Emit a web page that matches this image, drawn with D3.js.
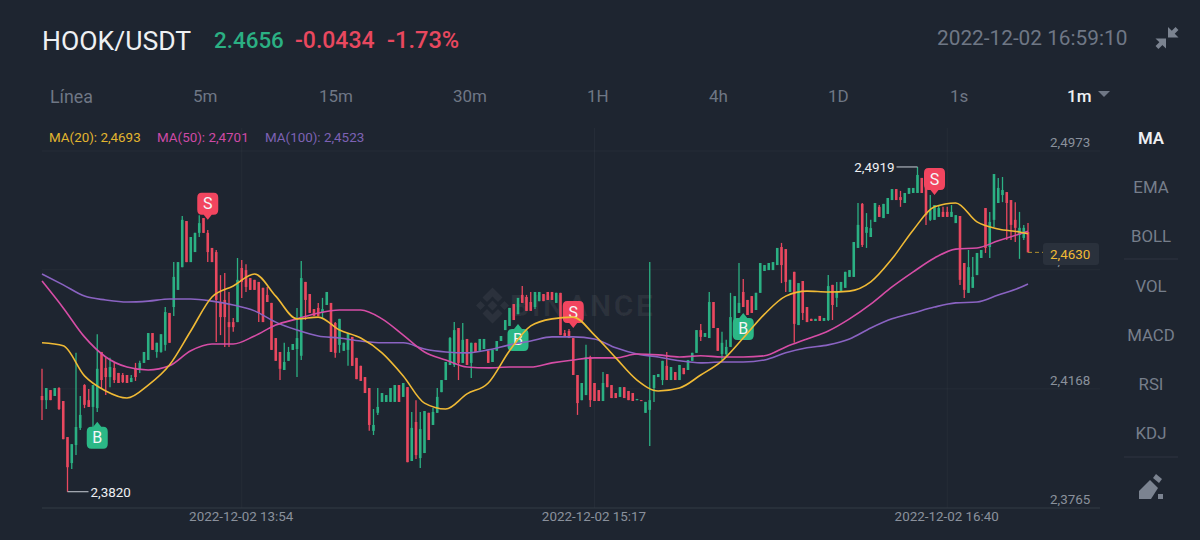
<!DOCTYPE html>
<html>
<head>
<meta charset="utf-8">
<title>HOOK/USDT</title>
<script src="https://cdn.jsdelivr.net/npm/d3@7"></script>
<style>
  html, body { margin: 0; padding: 0; background: #1e2530; }
  svg { display: block; font-family: Roboto, "Noto Sans", sans-serif; }
</style>
</head>
<body>
<svg id="chart" width="1200" height="540"></svg>
<script>
// One-minute candles, first candle at 13:07
const opens = [
2.4144,2.4130,2.4164,2.4144,2.4171,2.4127,2.4005,2.3917,2.3978,2.4036,
2.4181,2.4130,2.4107,2.4103,2.4293,2.4239,2.4208,2.4239,2.4222,2.4215,
2.4215,2.4191,2.4239,2.4232,2.4256,2.4266,2.4357,2.4293,2.4293,2.4317,
2.4425,2.4445,2.4503,2.4580,2.4736,2.4597,2.4631,2.4696,2.4746,2.4696,
2.4645,2.4631,2.4459,2.4469,2.4394,2.4394,2.4394,2.4577,2.4570,2.4543,
2.4537,2.4530,2.4510,2.4486,2.4459,2.4340,2.4293,2.4232,2.4263,2.4300,
2.4303,2.4280,2.4530,2.4489,2.4438,2.4442,2.4425,2.4452,2.4459,2.4391,
2.4317,2.4297,2.4300,2.4344,2.4273,2.4246,2.4208,2.4171,2.4026,2.4087,
2.4124,2.4124,2.4124,2.4124,2.4181,2.4141,2.4174,2.3924,2.4056,2.3934,
2.3951,2.4087,2.4046,2.4087,2.4157,2.4198,2.4249,2.4249,2.4374,2.4256,
2.4337,2.4256,2.4324,2.4297,2.4303,2.4297,2.4259,2.4297,2.4330,2.4367,
2.4381,2.4455,2.4421,2.4486,2.4479,2.4462,2.4445,2.4465,2.4489,2.4496,
2.4496,2.4459,2.4493,2.4357,2.4364,2.4340,2.4215,2.4130,2.4147,2.4276,
2.4188,2.4164,2.4127,2.4218,2.4181,2.4154,2.4141,2.4174,2.4161,2.4154,
2.4130,2.4130,2.4087,2.4097,2.4171,2.4208,2.4198,2.4246,2.4198,2.4225,
2.4198,2.4239,2.4232,2.4263,2.4290,2.4367,2.4344,2.4340,2.4462,2.4374,
2.4286,2.4286,2.4310,2.4391,2.4425,2.4496,2.4469,2.4482,2.4435,2.4493,
2.4567,2.4570,2.4570,2.4587,2.4648,2.4641,2.4496,2.4564,2.4384,2.4533,
2.4445,2.4405,2.4398,2.4415,2.4398,2.4401,2.4520,2.4476,2.4496,2.4510,
2.4547,2.4547,2.4645,2.4794,2.4696,2.4682,2.4733,2.4784,2.4746,2.4760,
2.4807,2.4844,2.4817,2.4797,2.4828,2.4831,2.4831,2.4882,2.4848,2.4740,
2.4740,2.4750,2.4767,2.4767,2.4750,2.4729,2.4753,2.4594,2.4493,2.4510,
2.4553,2.4611,2.4780,2.4648,2.4740,2.4797,2.4824,2.4834,2.4807,2.4740,
2.4689,2.4679,2.4699];
const closes = [
2.4130,2.4171,2.4130,2.4171,2.4100,2.3998,2.3903,2.3981,2.4039,2.4080,
2.4114,2.4107,2.4181,2.4236,2.4198,2.4208,2.4242,2.4198,2.4188,2.4191,
2.4188,2.4205,2.4208,2.4256,2.4293,2.4357,2.4300,2.4324,2.4353,2.4428,
2.4324,2.4547,2.4597,2.4740,2.4597,2.4682,2.4696,2.4729,2.4696,2.4631,
2.4597,2.4469,2.4411,2.4411,2.4377,2.4377,2.4537,2.4530,2.4513,2.4503,
2.4503,2.4425,2.4394,2.4462,2.4300,2.4263,2.4236,2.4259,2.4293,2.4320,
2.4340,2.4543,2.4469,2.4425,2.4415,2.4415,2.4438,2.4496,2.4293,2.4290,
2.4405,2.4324,2.4357,2.4246,2.4201,2.4195,2.4154,2.4046,2.4046,2.4107,
2.4154,2.4147,2.4171,2.4181,2.4124,2.4188,2.3920,2.4036,2.3944,2.4032,
2.4093,2.3995,2.4090,2.4141,2.4198,2.4259,2.4340,2.4367,2.4256,2.4334,
2.4249,2.4324,2.4293,2.4337,2.4337,2.4256,2.4300,2.4330,2.4347,2.4401,
2.4442,2.4401,2.4476,2.4459,2.4432,2.4432,2.4496,2.4496,2.4465,2.4469,
2.4469,2.4493,2.4350,2.4344,2.4340,2.4215,2.4120,2.4188,2.4276,2.4130,
2.4127,2.4127,2.4188,2.4174,2.4137,2.4137,2.4174,2.4137,2.4130,2.4127,
2.4134,2.4127,2.4124,2.4130,2.4215,2.4218,2.4263,2.4198,2.4242,2.4198,
2.4249,2.4218,2.4266,2.4290,2.4367,2.4344,2.4357,2.4462,2.4374,2.4297,
2.4324,2.4310,2.4411,2.4482,2.4459,2.4445,2.4418,2.4425,2.4493,2.4594,
2.4587,2.4594,2.4597,2.4645,2.4587,2.4530,2.4537,2.4388,2.4526,2.4425,
2.4394,2.4398,2.4405,2.4398,2.4408,2.4516,2.4452,2.4496,2.4530,2.4564,
2.4570,2.4665,2.4723,2.4655,2.4716,2.4712,2.4797,2.4750,2.4794,2.4814,
2.4844,2.4807,2.4807,2.4831,2.4848,2.4848,2.4892,2.4831,2.4756,2.4773,
2.4790,2.4780,2.4750,2.4750,2.4767,2.4756,2.4537,2.4503,2.4580,2.4547,
2.4628,2.4638,2.4645,2.4733,2.4895,2.4848,2.4841,2.4797,2.4723,2.4713,
2.4713,2.4713,2.4630];
const highs = [
2.4236,2.4171,2.4164,2.4171,2.4174,2.4127,2.4005,2.3981,2.4290,2.4144,
2.4184,2.4168,2.4181,2.4353,2.4293,2.4273,2.4273,2.4259,2.4222,2.4222,
2.4215,2.4215,2.4256,2.4263,2.4293,2.4357,2.4357,2.4324,2.4353,2.4445,
2.4425,2.4597,2.4597,2.4753,2.4736,2.4682,2.4696,2.4756,2.4746,2.4706,
2.4645,2.4638,2.4553,2.4560,2.4496,2.4408,2.4611,2.4604,2.4590,2.4543,
2.4537,2.4530,2.4510,2.4513,2.4459,2.4340,2.4293,2.4324,2.4310,2.4320,
2.4442,2.4601,2.4530,2.4489,2.4438,2.4459,2.4476,2.4496,2.4459,2.4394,
2.4405,2.4324,2.4357,2.4344,2.4273,2.4246,2.4208,2.4171,2.4100,2.4171,
2.4154,2.4147,2.4171,2.4181,2.4181,2.4188,2.4174,2.4090,2.4130,2.4090,
2.4093,2.4087,2.4103,2.4171,2.4198,2.4259,2.4344,2.4394,2.4374,2.4391,
2.4337,2.4324,2.4324,2.4337,2.4337,2.4297,2.4300,2.4330,2.4347,2.4401,
2.4442,2.4455,2.4476,2.4516,2.4486,2.4496,2.4496,2.4496,2.4489,2.4496,
2.4496,2.4493,2.4493,2.4367,2.4371,2.4340,2.4215,2.4188,2.4317,2.4280,
2.4188,2.4164,2.4225,2.4218,2.4181,2.4154,2.4174,2.4174,2.4161,2.4154,
2.4134,2.4130,2.4124,2.4597,2.4215,2.4218,2.4263,2.4293,2.4242,2.4225,
2.4249,2.4239,2.4266,2.4290,2.4367,2.4388,2.4357,2.4496,2.4462,2.4374,
2.4361,2.4334,2.4493,2.4482,2.4594,2.4540,2.4469,2.4482,2.4493,2.4594,
2.4587,2.4594,2.4597,2.4645,2.4662,2.4641,2.4537,2.4564,2.4526,2.4533,
2.4445,2.4405,2.4405,2.4415,2.4408,2.4553,2.4520,2.4530,2.4530,2.4564,
2.4570,2.4665,2.4797,2.4797,2.4763,2.4740,2.4797,2.4790,2.4794,2.4814,
2.4844,2.4844,2.4838,2.4831,2.4848,2.4848,2.4919,2.4882,2.4848,2.4824,
2.4790,2.4790,2.4784,2.4784,2.4790,2.4756,2.4753,2.4594,2.4638,2.4614,
2.4628,2.4638,2.4780,2.4767,2.4895,2.4882,2.4885,2.4834,2.4807,2.4800,
2.4767,2.4723,2.4729];
const lows = [
2.4063,2.4100,2.4130,2.4144,2.4097,2.3998,2.3820,2.3897,2.3944,2.4029,
2.4103,2.4107,2.4039,2.4090,2.4171,2.4147,2.4174,2.4188,2.4188,2.4188,
2.4188,2.4191,2.4195,2.4222,2.4256,2.4266,2.4300,2.4273,2.4290,2.4297,
2.4324,2.4415,2.4503,2.4580,2.4597,2.4597,2.4631,2.4682,2.4696,2.4597,
2.4597,2.4327,2.4350,2.4310,2.4310,2.4361,2.4394,2.4476,2.4496,2.4503,
2.4503,2.4394,2.4394,2.4462,2.4300,2.4263,2.4198,2.4232,2.4263,2.4300,
2.4208,2.4266,2.4401,2.4425,2.4415,2.4415,2.4408,2.4452,2.4293,2.4273,
2.4290,2.4297,2.4246,2.4246,2.4201,2.4195,2.4154,2.4026,2.4012,2.4080,
2.4124,2.4124,2.4124,2.4124,2.4124,2.4141,2.3920,2.3924,2.3931,2.3900,
2.3951,2.3995,2.4046,2.4087,2.4157,2.4198,2.4249,2.4242,2.4198,2.4256,
2.4249,2.4205,2.4293,2.4297,2.4303,2.4256,2.4259,2.4297,2.4330,2.4367,
2.4381,2.4401,2.4421,2.4459,2.4432,2.4432,2.4438,2.4465,2.4465,2.4469,
2.4469,2.4459,2.4350,2.4344,2.4340,2.4215,2.4080,2.4130,2.4147,2.4107,
2.4127,2.4127,2.4127,2.4174,2.4137,2.4137,2.4141,2.4137,2.4130,2.4127,
2.4130,2.4127,2.4087,2.3975,2.4124,2.4208,2.4181,2.4198,2.4198,2.4198,
2.4198,2.4218,2.4232,2.4263,2.4290,2.4330,2.4344,2.4340,2.4374,2.4297,
2.4266,2.4280,2.4310,2.4391,2.4425,2.4445,2.4418,2.4425,2.4435,2.4493,
2.4567,2.4570,2.4570,2.4587,2.4526,2.4496,2.4496,2.4324,2.4384,2.4401,
2.4394,2.4398,2.4398,2.4398,2.4398,2.4398,2.4401,2.4445,2.4496,2.4510,
2.4547,2.4547,2.4645,2.4648,2.4645,2.4682,2.4733,2.4750,2.4746,2.4760,
2.4807,2.4807,2.4784,2.4797,2.4828,2.4831,2.4831,2.4831,2.4723,2.4736,
2.4740,2.4750,2.4750,2.4750,2.4750,2.4729,2.4520,2.4476,2.4493,2.4510,
2.4553,2.4611,2.4628,2.4611,2.4716,2.4797,2.4800,2.4672,2.4672,2.4665,
2.4608,2.4672,2.4630];

// Moving averages, read every five candles plus the last one
const maStep = 5;
const ma20 = [
2.4324,2.4314,2.4212,2.4161,2.4137,2.4181,2.4249,2.4364,2.4479,2.4516,
2.4557,2.4482,2.4405,2.4411,2.4367,2.4340,2.4290,2.4212,2.4120,2.4100,
2.4151,2.4188,2.4297,2.4381,2.4405,2.4411,2.4350,2.4273,2.4198,2.4161,
2.4171,2.4215,2.4263,2.4340,2.4421,2.4482,2.4499,2.4496,2.4499,2.4530,
2.4608,2.4706,2.4784,2.4797,2.4733,2.4709,2.4699,2.4693];
const ma50 = [
2.4533,2.4442,2.4344,2.4276,2.4242,2.4232,2.4246,2.4297,2.4320,2.4320,
2.4347,2.4384,2.4405,2.4425,2.4435,2.4435,2.4405,2.4350,2.4293,2.4266,
2.4242,2.4239,2.4242,2.4242,2.4256,2.4266,2.4273,2.4273,2.4286,2.4283,
2.4276,2.4280,2.4276,2.4276,2.4280,2.4310,2.4337,2.4364,2.4405,2.4455,
2.4513,2.4564,2.4611,2.4641,2.4645,2.4669,2.4692,2.4701];
const ma100 = [
2.4557,2.4520,2.4482,2.4469,2.4462,2.4465,2.4472,2.4472,2.4465,2.4452,
2.4432,2.4394,2.4367,2.4347,2.4340,2.4330,2.4324,2.4324,2.4303,2.4293,
2.4290,2.4300,2.4317,2.4330,2.4344,2.4344,2.4337,2.4307,2.4286,2.4276,
2.4263,2.4256,2.4259,2.4259,2.4266,2.4290,2.4307,2.4317,2.4337,2.4374,
2.4405,2.4425,2.4445,2.4459,2.4462,2.4486,2.4510,2.4523];

// Buy and sell flags: candle number and the price the flag points at
const flagSides  = ["B", "S", "B", "S", "B", "S"];
const flagCandle = [13, 39, 112, 125, 165, 210];
const flagPrice  = [2.4057, 2.4740, 2.4388, 2.4374, 2.4425, 2.4824];

const priceTicks = [2.4973, 2.4571, 2.4168, 2.3765];
const timeTicks = ["2022-12-02 13:54", "2022-12-02 15:17", "2022-12-02 16:40"];
const intervals = ["Línea", "5m", "15m", "30m", "1H", "4h", "1D", "1s", "1m"];
const intervalLeft = [50, 193, 319, 453, 587, 709, 828, 950, 1067];
const indicators = ["MA", "EMA", "BOLL", "VOL", "MACD", "RSI", "KDJ"];
const indicatorTop = [138, 187, 236, 286, 335, 384, 433];
const lastPrice = 2.4630;

const GREEN = "#2bb083", RED = "#e9485f";
const svg = d3.select("#chart");
const parseMinute = d3.utcParse("%Y-%m-%d %H:%M");
const startTime = parseMinute("2022-12-02 13:07");
const minute = i => d3.utcMinute.offset(startTime, i);
const x = d3.scaleUtc().domain([startTime, minute(232)]).range([42, 1028]);
const y = d3.scaleLinear().domain([2.3765, 2.4973]).range([508, 151]);
const comma = v => d3.format(".4f")(v).replace(".", ",");

const text = (parent, s, px, py, size, fill, weight, anchor) => parent.append("text")
  .attr("x", px).attr("y", py).attr("font-size", size).attr("fill", fill)
  .attr("font-weight", weight || 400).attr("text-anchor", anchor || "start")
  .attr("dominant-baseline", "central").text(s);

// Header
text(svg, "HOOK/USDT", 42, 40, 26.6, "#eef0f3", 400);
text(svg, "2.4656", 214, 40, 22.4, GREEN, 500);
text(svg, "-0.0434", 295, 40, 23, RED, 500);
text(svg, "-1.73%", 387, 40, 23.6, RED, 500);
text(svg, "2022-12-02 16:59:10", 937, 38, 20.8, "#6f7785", 400);

// Collapse icon: two arrows pointing at each other
const icon = svg.append("g").attr("fill", "#7b8390").attr("stroke", "#7b8390");
icon.append("path").attr("d", "M1168 27V37.5H1178.5Z").attr("stroke", "none");
icon.append("line").attr("x1", 1172).attr("y1", 33.5).attr("x2", 1177).attr("y2", 28.5).attr("stroke-width", 4);
icon.append("path").attr("d", "M1166 48.5V38.5H1155.5Z").attr("stroke", "none");
icon.append("line").attr("x1", 1162).attr("y1", 42.5).attr("x2", 1157).attr("y2", 47.5).attr("stroke-width", 4);

// Interval tabs
intervals.forEach((t, i) => {
  const active = t === "1m";
  text(svg, t, intervalLeft[i], 96, i === 0 ? 17.8 : 17, active ? "#eef0f3" : "#6f7785", active ? 500 : 400);
});
svg.append("path").attr("d", "M1098 91h12l-6 6z").attr("fill", "#6f7785");

// Indicator menu
indicators.forEach((t, i) => {
  text(svg, t, 1151, indicatorTop[i], 16.8, t === "MA" ? "#eef0f3" : "#767e8b", t === "MA" ? 600 : 400, "middle");
});
svg.selectAll("line.sep").data([259, 457]).join("line").attr("class", "sep")
  .attr("x1", 1124).attr("x2", 1178).attr("y1", d => d).attr("y2", d => d)
  .attr("stroke", "#2e3540");
// Drawing tool icon
svg.append("g").attr("fill", "#7b8390").call(g => {
  g.append("path").attr("d", "M1139 499v-8l11-11 8 8-7 11z");
  g.append("path").attr("d", "M1153 478l3-4 6 5-3 4z");
  g.append("rect").attr("x", 1158).attr("y", 494).attr("width", 5).attr("height", 5);
});

// Legend
[["MA(20): ", ma20, 49, "#e2b52f"], ["MA(50): ", ma50, 157, "#cf4aa6"], ["MA(100): ", ma100, 265, "#7d62b4"]]
  .forEach(([name, series, left, color]) => {
    text(svg, name + comma(series[series.length - 1]), left, 137, 13.4, color);
  });

// Grid
const grid = svg.append("g").attr("stroke", "#ffffff").attr("stroke-opacity", 0.035);
grid.selectAll("line.h").data(priceTicks).join("line")
  .attr("x1", 42).attr("x2", 1100).attr("y1", d => y(d)).attr("y2", d => y(d));
grid.selectAll("line.v").data(timeTicks).join("line")
  .attr("x1", d => x(parseMinute(d))).attr("x2", d => x(parseMinute(d))).attr("y1", 128).attr("y2", 508);

// Watermark
const mark = svg.append("g").attr("fill", "#ffffff").attr("fill-opacity", 0.06);
mark.append("path").attr("transform", "translate(492.5,305.5)")
  .attr("d", "M0-18L10-8 5.5-3.5 0-9-5.5-3.5-10-8Z M0 18L10 8 5.5 3.5 0 9-5.5 3.5-10 8Z M0-5L5 0 0 5-5 0Z M-12-4.5L-7.5 0-12 4.5-16.5 0Z M12-4.5L16.5 0 12 4.5 7.5 0Z");
mark.append("text").attr("x", 510).attr("y", 316).attr("font-size", 30).attr("font-weight", 700)
  .attr("letter-spacing", 2.6).text("BINANCE");

// Axes
const yAxis = d3.axisRight(y).tickValues(priceTicks).tickFormat(comma).tickSize(0);
svg.append("g").attr("transform", "translate(1050,0.5)").call(yAxis)
  .call(g => g.select(".domain").remove())
  .call(g => g.selectAll("text").attr("x", 0).attr("dy", "-0.4em").attr("fill", "#8a919c")
    .attr("font-size", 13.4).attr("font-family", "Roboto"));

const xAxis = d3.axisBottom(x).tickValues(timeTicks.map(parseMinute))
  .tickFormat(d3.utcFormat("%Y-%m-%d %H:%M")).tickSize(0);
svg.append("g").attr("transform", "translate(-1,508)").call(xAxis)
  .call(g => g.select(".domain").remove())
  .call(g => g.selectAll("text").attr("y", 3).attr("fill", "#8a919c").attr("font-size", 13.4)
    .attr("font-family", "Roboto"));
svg.append("line").attr("x1", 42).attr("x2", 1100).attr("y1", 508).attr("y2", 508).attr("stroke", "#313843");

// Candles
const candles = d3.range(opens.length);
const colorOf = i => closes[i] >= opens[i] ? GREEN : RED;
const plot = svg.append("g");
plot.selectAll("line.wick").data(candles).join("line").attr("class", "wick")
  .attr("x1", i => x(minute(i))).attr("x2", i => x(minute(i)))
  .attr("y1", i => y(highs[i])).attr("y2", i => y(lows[i]))
  .attr("stroke", colorOf).attr("stroke-width", 1.3);
plot.selectAll("rect.body").data(candles).join("rect").attr("class", "body")
  .attr("x", i => x(minute(i)) - 1.3).attr("width", 2.6)
  .attr("y", i => y(Math.max(opens[i], closes[i])))
  .attr("height", i => Math.max(1, Math.abs(y(opens[i]) - y(closes[i]))))
  .attr("fill", colorOf);

// Flags sit under the average lines
const flags = svg.append("g").selectAll("g").data(flagSides).join("g")
  .attr("transform", (d, i) => `translate(${x(minute(flagCandle[i]))},${y(flagPrice[i])})`);
flags.append("path").attr("fill", d => d === "B" ? "#2bb886" : "#f2455f")
  .attr("d", d => {
    const s = d === "B" ? 1 : -1;
    return `M0 0L4 ${5 * s}H6Q10.5 ${5 * s} 10.5 ${10 * s}V${22 * s}Q10.5 ${27 * s} 6 ${27 * s}H-6Q-10.5 ${27 * s} -10.5 ${22 * s}V${10 * s}Q-10.5 ${5 * s} -6 ${5 * s}H-4Z`;
  });
flags.append("text").attr("text-anchor", "middle").attr("dominant-baseline", "central")
  .attr("y", d => d === "B" ? 16 : -16).attr("fill", "#f4f6f8").attr("font-size", 16).text(d => d);

// Moving average lines
const maLine = d3.line()
  .x((d, i, all) => x(minute(i === all.length - 1 ? 232 : i * maStep)))
  .y(d => y(d))
  .curve(d3.curveMonotoneX);
[[ma100, "#8a63c2"], [ma50, "#d64da6"], [ma20, "#f0ba35"]].forEach(([series, color]) => {
  svg.append("path").datum(series).attr("d", maLine).attr("fill", "none")
    .attr("stroke", color).attr("stroke-width", 1.6);
});

// High and low call-outs
const extreme = (i, price, side) => {
  const px = x(minute(i)), py = y(price);
  const g = svg.append("g");
  g.append("line").attr("x1", px).attr("x2", px + side * 21).attr("y1", py).attr("y2", py).attr("stroke", "#c9ced6");
  text(g, comma(price), px + side * 23, py + 0.5, 13.4, "#eef0f3", 400, side > 0 ? "start" : "end");
};
extreme(6, d3.min(lows), 1);
extreme(206, d3.max(highs), -1);

// Last price tag
svg.append("rect").attr("x", 1043).attr("y", 243).attr("width", 56).attr("height", 22).attr("rx", 3).attr("fill", "#2a313c");
svg.append("line").attr("x1", x(minute(232))).attr("x2", 1043).attr("y1", y(lastPrice)).attr("y2", y(lastPrice))
  .attr("stroke", "#b08f2e").attr("stroke-dasharray", "4 3");
text(svg, comma(lastPrice), 1050, 254, 13.4, "#f0ba35");
</script>
</body>
</html>
